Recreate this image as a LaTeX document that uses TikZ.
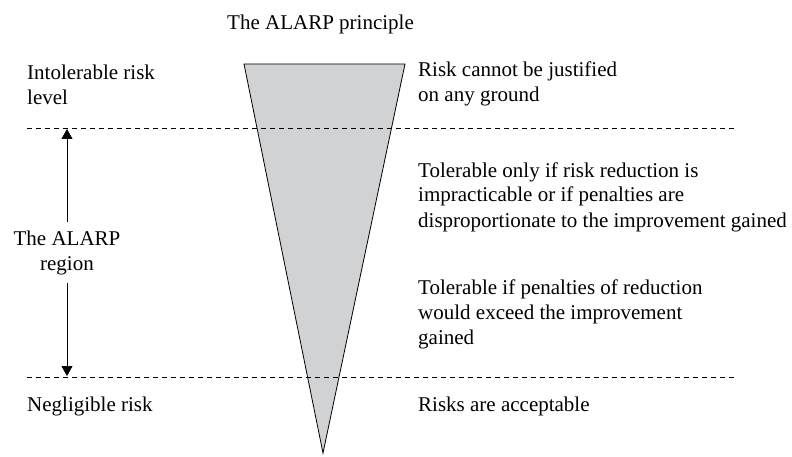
\documentclass[tikz,border=0pt]{standalone}
\usepackage{fontspec}
\setmainfont{Liberation Serif}
\usetikzlibrary{arrows.meta,positioning}
\definecolor{algray}{RGB}{209,210,212}

\begin{document}
\begin{tikzpicture}[x=1pt,y=-1pt,>={Triangle[length=10pt,width=11pt]},
    lbl/.style={anchor=base west,inner sep=0pt,align=left,font=\fontsize{21}{25}\selectfont},
    lvl/.style={dash pattern=on 5pt off 4pt,line width=0.8pt}]
        \useasboundingbox (0,0) rectangle (792,457);
        % title and the funnel (base anchor = last line)
        \node[lbl] (title) at (227,30) {The ALARP principle};
        \draw[line width=0.8pt,fill=algray] (244,64) coordinate (ftl) -- (405,64) coordinate (ftr)
          -- (323,453) coordinate (fap) -- cycle;
        % level lines
        \coordinate (hi0) at (27,128); \coordinate (hi1) at (737,128);
        \coordinate (lo0) at (27,377); \coordinate (lo1) at (737,377);
        \draw[lvl] (hi0)--(hi1); \draw[lvl] (lo0)--(lo1);
        % left labels
        \node[lbl] (intol) at (27,105) {Intolerable risk\\level};
        \node[lbl] (negl) at (27,411) {Negligible risk};
        \coordinate (rtop) at (67,129); \coordinate (rbot) at (67,376);
        \draw[<->,line width=0.9pt] (rbot)--node[fill=white,inner xsep=2pt,inner ysep=8pt,align=center,
          font=\fontsize{21}{25}\selectfont] (region) {The ALARP\\region}(rtop);
        % right labels
        \node[lbl] (nojust) at (418,102) {Risk cannot be justified\\on any ground};
        \node[lbl] (tolonly) at (418,227) {Tolerable only if risk reduction is\\impracticable or if penalties are\\disproportionate to the improvement gained};
        \node[lbl] (tolif) at (418,344) {Tolerable if penalties of reduction\\would exceed the improvement\\gained};
        \node[lbl] (accept) at (418,411) {Risks are acceptable};
      \end{tikzpicture}
\end{document}
